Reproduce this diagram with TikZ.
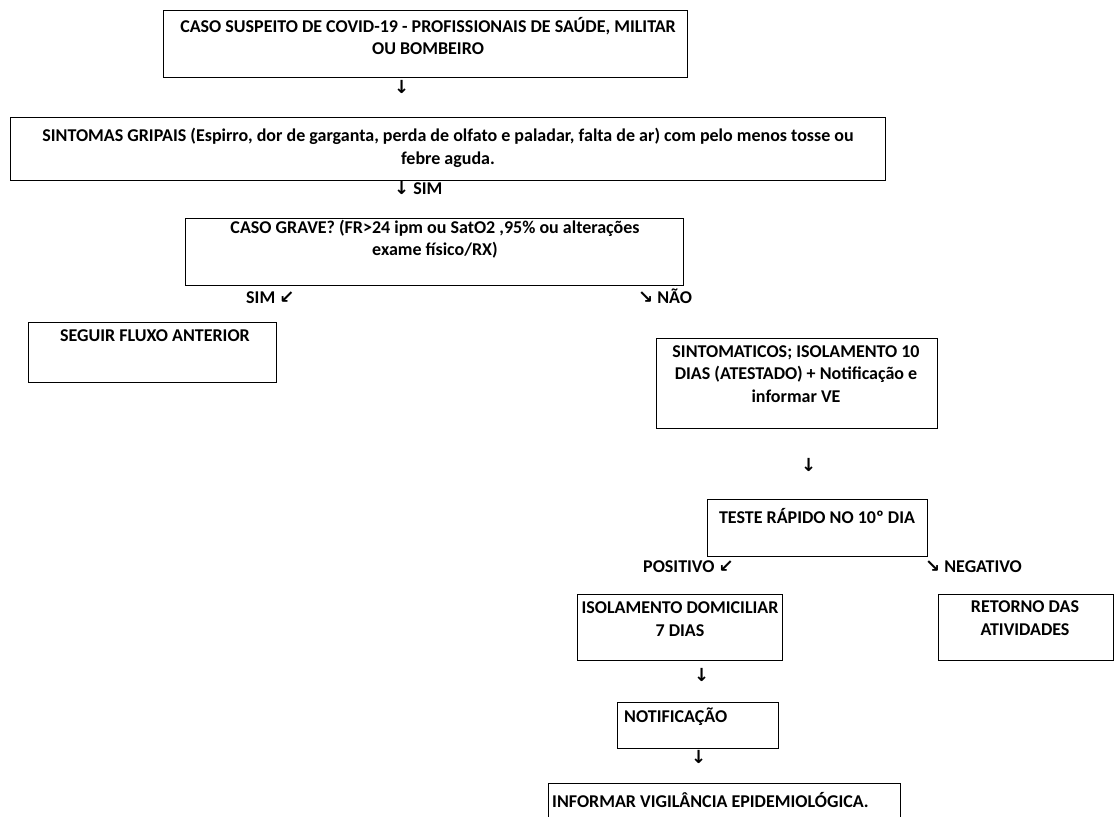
\documentclass[tikz,border=0pt]{standalone}
\usepackage{fontspec}
\setmainfont{Carlito}
\newfontfamily\arrowfont{DejaVu Sans}
\usetikzlibrary{positioning}

\tikzset{
  frame/.style={draw, line width=1.2pt, anchor=north west, inner sep=0pt},% empty box, text goes on top
  boxtext/.style={align=center, inner sep=0pt, font=\bfseries\fontsize{18}{22.5}\selectfont},
  tagtext/.style={inner sep=0pt, anchor=base west, font=\bfseries\fontsize{18}{22.5}\selectfont}
}
\newcommand{\dn}{{\arrowfont\bfseries ↓}}
\newcommand{\sw}{{\arrowfont\bfseries ↙}}
\newcommand{\se}{{\arrowfont\bfseries ↘}}

\begin{document}
\begin{tikzpicture}[x=1pt,y=-1pt]
\fill[white] (0,0) rectangle (1115,816);
\useasboundingbox (0,0) rectangle (1115,816);

% frames
\node[frame, minimum width=524, minimum height=67] (caso) at (163,10) {};
\node[frame, minimum width=875, minimum height=63] (sintomas) at (10,117) {};
\node[frame, minimum width=498, minimum height=67] (grave) at (185,218) {};
\node[frame, minimum width=248, minimum height=60] (seguir) at (28,322) {};
\node[frame, minimum width=281, minimum height=90] (isol10) at (656,338) {};
\node[frame, minimum width=220, minimum height=57] (teste) at (707,499) {};
\node[frame, minimum width=205, minimum height=66] (domic) at (577,594) {};
\node[frame, minimum width=175, minimum height=66] (retorno) at (938,594) {};
\node[frame, minimum width=161, minimum height=46] (notif) at (617,702) {};
\node[frame, minimum width=352, minimum height=60] (informar) at (548,783) {};

% texts of the frames
\node[boxtext] (casotxt) at (428,36) {CASO SUSPEITO DE COVID-19 - PROFISSIONAIS DE SAÚDE, MILITAR\\OU BOMBEIRO};
\node[boxtext] (sintomastxt) at (448,148) {SINTOMAS GRIPAIS (Espirro, dor de garganta, perda de olfato e paladar, falta de ar) com pelo menos tosse ou\\febre aguda.};
\node[boxtext] (gravetxt) at (435,239) {CASO GRAVE? (FR>24 ipm ou SatO2 ,95\% ou alterações\\exame físico/RX)};
\node[boxtext] (seguirtxt) at (155,336) {SEGUIR FLUXO ANTERIOR};
\node[boxtext] (isol10txt) at (796,374) {SINTOMATICOS; ISOLAMENTO 10\\DIAS (ATESTADO) + Notificação e\\informar VE};
\node[boxtext] (testetxt) at (817,516) {TESTE RÁPIDO NO 10º DIA};
\node[boxtext] (domictxt) at (680,619) {ISOLAMENTO DOMICILIAR\\7 DIAS};
\node[boxtext] (retornotxt) at (1025,618) {RETORNO DAS\\ATIVIDADES};
\node[boxtext, anchor=west] (notiftxt) at (624,717) {NOTIFICAÇÃO};
\node[boxtext, anchor=west] (informartxt) at (552,800) {INFORMAR VIGILÂNCIA EPIDEMIOLÓGICA.};

% arrows, typed as characters
\node[tagtext] (dn1) at (394,93) {\dn};
\node[tagtext] (simA) at (394,194) {\dn\ SIM};
\node[tagtext] (simB) at (246,303) {SIM \sw};
\node[tagtext] (nao) at (638,303) {\se\ NÃO};
\node[tagtext] (dn2) at (801,471) {\dn};
\node[tagtext] (pos) at (643,572) {POSITIVO \sw};
\node[tagtext] (neg) at (925,572) {\se\ NEGATIVO};
\node[tagtext] (dn3) at (694,681) {\dn};
\node[tagtext] (dn4) at (691,763) {\dn};

\end{tikzpicture}
\end{document}
